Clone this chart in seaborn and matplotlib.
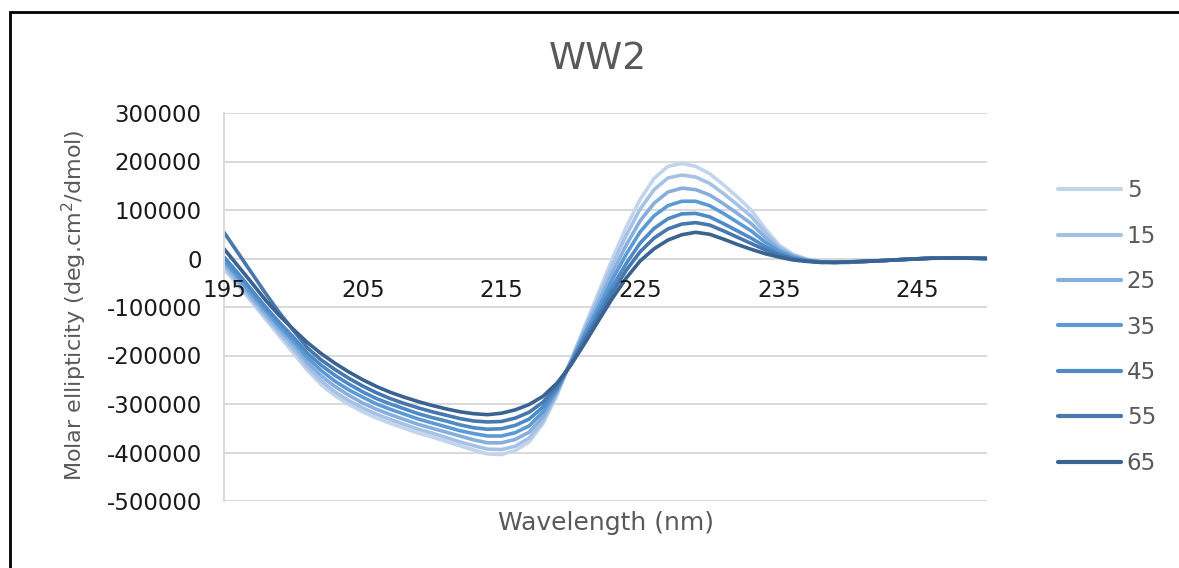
import pandas as pd
import matplotlib.pyplot as plt
import seaborn as sns
from matplotlib.patches import Rectangle

sns.set_style('white')
plt.rcParams['font.family'] = ['DejaVu Sans']
plt.rcParams['axes.unicode_minus'] = False

# wavelength (nm)
wavelength = list(range(195, 241)) + [242, 244, 246, 248, 250]

# molar ellipticity per temperature
cd_5 = [-22000, -55000, -90000, -125000, -160000, -195000, -230000, -260000, -283000, -301000,
        -316000, -329000, -340000, -350000, -360000, -368000, -377000, -386000, -395000, -403000,
        -404000, -396000, -378000, -340000, -282000, -210000, -140000, -70000, 0, 65000,
        122000, 165000, 190000, 196000, 190000, 175000, 152000, 127000, 100000, 62000,
        28000, 9000, -1000, -6000, -8000, -8000, -5000, -2000, 1000, 1500, 0]
cd_15 = [-16000, -50000, -85000, -120000, -154000, -187000, -223000, -252000, -275000, -293000,
         -308000, -321000, -332000, -342000, -352000, -360000, -369000, -378000, -386000, -393000,
         -394000, -387000, -370000, -335000, -279000, -211000, -144000, -79000, -13000, 48000,
         102000, 142000, 166000, 172000, 168000, 155000, 134000, 111000, 87000, 54000,
         24000, 7000, -2000, -6000, -8000, -8000, -5000, -2000, 1000, 1500, 0]
cd_25 = [-10000, -45000, -80000, -114000, -147000, -178000, -214000, -242000, -264000, -282000,
         -298000, -311000, -322000, -332000, -342000, -350000, -358000, -366000, -374000, -380000,
         -380000, -373000, -358000, -326000, -275000, -213000, -150000, -90000, -29000, 28000,
         78000, 114000, 137000, 145000, 142000, 131000, 113000, 93000, 72000, 44000,
         19000, 5000, -3000, -7000, -8000, -8000, -5000, -2000, 1000, 1500, 0]
cd_35 = [-4000, -38000, -73000, -107000, -140000, -170000, -204000, -231000, -253000, -271000,
         -286000, -300000, -311000, -321000, -331000, -339000, -347000, -355000, -361000, -366000,
         -366000, -359000, -345000, -316000, -271000, -215000, -156000, -101000, -43000, 9000,
         55000, 88000, 109000, 118000, 118000, 109000, 93000, 75000, 57000, 34000,
         15000, 3000, -4000, -7000, -8000, -7500, -5000, -2000, 1000, 1000, 0]
cd_45 = [3000, -30000, -65000, -100000, -132000, -162000, -195000, -220000, -241000, -259000,
         -275000, -289000, -300000, -310000, -320000, -328000, -335000, -343000, -349000, -352000,
         -351000, -344000, -331000, -306000, -267000, -216000, -162000, -111000, -58000, -10000,
         32000, 62000, 82000, 92000, 93000, 86000, 72000, 57000, 42000, 25000,
         10000, 0, -5000, -7000, -8000, -7500, -5000, -2000, 500, 1000, 0]
cd_55 = [54000, 12000, -30000, -72000, -112000, -148000, -184000, -209000, -229000, -247000,
         -263000, -277000, -289000, -299000, -308000, -316000, -323000, -330000, -335000, -337000,
         -336000, -329000, -317000, -296000, -262000, -218000, -168000, -119000, -70000, -24000,
         14000, 42000, 61000, 71000, 74000, 69000, 57000, 44000, 31000, 18000,
         7000, -1000, -5000, -8000, -8000, -7000, -5000, -2000, 500, 1000, 0]
cd_65 = [20000, -15000, -50000, -86000, -118000, -146000, -173000, -196000, -216000, -234000,
         -250000, -264000, -276000, -286000, -295000, -303000, -310000, -316000, -320000, -322000,
         -319000, -312000, -301000, -284000, -257000, -220000, -175000, -128000, -82000, -40000,
         -5000, 20000, 38000, 49000, 54000, 50000, 40000, 29000, 19000, 10000,
         3000, -3000, -6000, -8000, -8000, -7000, -5000, -2000, 500, 1000, 0]

temps = ['5', '15', '25', '35', '45', '55', '65']
series = [cd_5, cd_15, cd_25, cd_35, cd_45, cd_55, cd_65]
colors = ['#C3D5EC', '#A5C2E6', '#88AEDD', '#5B9BD5', '#4F8AC6', '#4677AD', '#3A6391']

df = pd.concat([pd.DataFrame({'Wavelength': wavelength, 'Ellipticity': v, 'Temp': t})
                for t, v in zip(temps, series)], ignore_index=True)

W, H = 1179, 568
fig = plt.figure(figsize=(W / 100, H / 100), dpi=100)
ax = fig.add_axes([224 / W, 1 - 501 / H, (987 - 224) / W, (501 - 113) / H])

sns.lineplot(data=df, x='Wavelength', y='Ellipticity', hue='Temp', hue_order=temps,
             palette=dict(zip(temps, colors)), estimator=None, sort=False,
             linewidth=2.6, ax=ax)

grid_c = '#D9D9D9'
ax.set_xlim(195, 250)
ax.set_ylim(-500000, 300000)
ax.set_yticks(range(-500000, 300001, 100000))
ax.yaxis.set_major_formatter(lambda v, p: f'{v:.0f}')
ax.set_xticks([195, 205, 215, 225, 235, 245])
ax.yaxis.grid(True, color=grid_c, lw=1.4)
ax.xaxis.grid(False)
ax.set_axisbelow(True)
ax.xaxis.set_zorder(3)  # x labels sit on top of the curves, like Excel

for s in ['top', 'right']:
    ax.spines[s].set_visible(False)
ax.spines['left'].set_color(grid_c)
ax.spines['left'].set_linewidth(1.4)
ax.spines['bottom'].set_position(('data', 0))
ax.spines['bottom'].set_color(grid_c)
ax.spines['bottom'].set_linewidth(1.4)
ax.spines['bottom'].set_zorder(0.5)

ax.tick_params(axis='x', length=0, pad=15, labelsize=16.5, labelcolor='#1a1a1a')
ax.tick_params(axis='y', length=0, pad=16, labelsize=16.5, labelcolor='#1a1a1a')

ax.set_xlabel('')
ax.set_ylabel('')
fig.text(606 / W, 1 - 523 / H, 'Wavelength (nm)', ha='center', va='center',
         fontsize=18, color='#595959')
fig.text(74 / W, 1 - 305 / H, 'Molar ellipticity (deg.cm$^2$/dmol)', ha='center', va='center',
         rotation=90, fontsize=16, color='#595959')
fig.text(598 / W, 1 - 59 / H, 'WW2', ha='center', va='center', fontsize=27, color='#595959')

handles, labels = ax.get_legend_handles_labels()
leg = ax.legend(handles, labels, loc='center left', bbox_to_anchor=(1058 / W, 1 - 327 / H),
                bbox_transform=fig.transFigure, frameon=False, fontsize=16.5,
                labelcolor='#595959', handlelength=2.75, handletextpad=0.25,
                labelspacing=0.98, borderpad=0, borderaxespad=0)
for h in leg.get_lines():
    h.set_linewidth(3)

# chart frame (screenshot border)
fig.add_artist(Rectangle((10 / W, -0.1), 2, 1.1 - 12 / H, transform=fig.transFigure,
                         fill=False, edgecolor='black', lw=2))

fig.savefig('out.png', dpi=100)
